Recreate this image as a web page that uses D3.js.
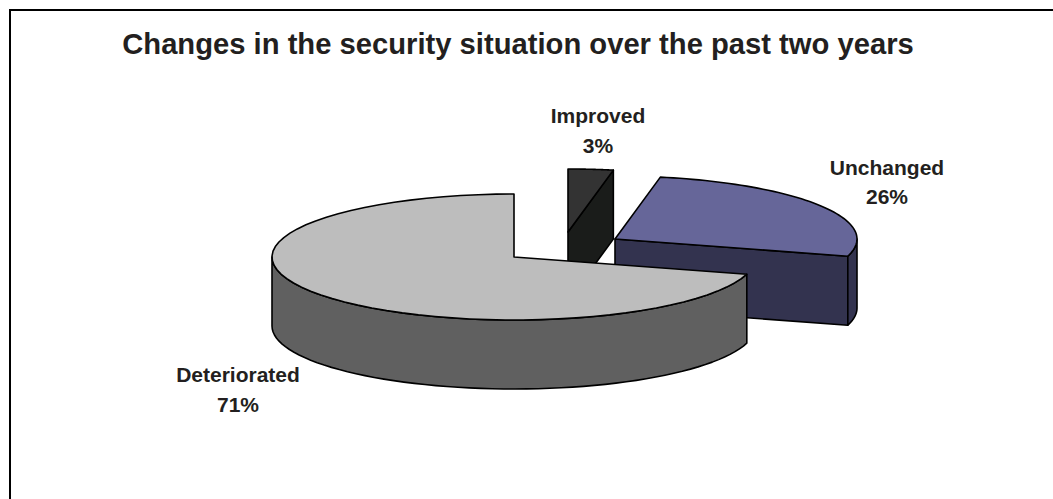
<!DOCTYPE html>
<html><head><meta charset="utf-8">
<script src="https://cdn.jsdelivr.net/npm/d3@7"></script>
<style>html,body{margin:0;padding:0;background:#fff}svg{display:block}</style></head>
<body><script>
const categories = ["Improved", "Unchanged", "Deteriorated"];
const shares = [3, 26.4, 70.6];
const topColors = ["#333333", "#666699", "#bdbdbd"];
const sideColors = ["#1a1c1a", "#33334f", "#606060"];
const titleText = "Changes in the security situation over the past two years";

const W = 1053, H = 499, rx = 242, ry = 63, depth = 69;
const centers = [[568, 232], [615, 239], [514, 257]];
const labelPos = [[598, 123], [887, 175], [238, 382]];
const labelGap = [30, 29, 30];

const svg = d3.select("body").append("svg").attr("width", W).attr("height", H);
svg.append("path").attr("d", d3.line()([[10, H], [10, 10], [W, 10]]))
  .attr("fill", "none").attr("stroke", "#000").attr("stroke-width", 2);

svg.append("text").attr("x", 518).attr("y", 54).attr("text-anchor", "middle")
  .attr("font-family", "Liberation Sans").attr("font-weight", "bold").attr("font-size", 29.2)
  .attr("fill", "#231f20").text(titleText);

const arcs = d3.pie().sort(null).value(d => d)(shares);
const px = (c, a, dy = 0) => [c[0] + rx * Math.sin(a), c[1] - ry * Math.cos(a) + dy];
const line = d3.line();
const sampled = (a0, a1) => d3.range(0, 61).map(i => a0 + (a1 - a0) * i / 60);

arcs.forEach((d, i) => {
  const c = centers[i], g = svg.append("g");
  const style = (p, fill) => p.attr("fill", fill).attr("stroke", "#000").attr("stroke-width", 1.6).attr("stroke-linejoin", "round");
  const a0 = d.startAngle, a1 = d.endAngle;
  const HALF = Math.PI / 2;

  // cut face that looks towards the viewer
  if (a1 < Math.PI) {
    style(g.append("path").attr("d", line([c, px(c, a1), px(c, a1, depth), [c[0], c[1] + depth]]) + "Z"), sideColors[i]);
  }
  // outer wall: only the part facing the viewer (between 90deg and 270deg)
  const w0 = Math.max(a0, HALF), w1 = Math.min(a1, 3 * HALF);
  if (w1 > w0) {
    const s = sampled(w0, w1);
    const pts = s.map(a => px(c, a)).concat(s.slice().reverse().map(a => px(c, a, depth)));
    style(g.append("path").attr("d", line(pts) + "Z"), sideColors[i]);
  }
  // top face
  const s = sampled(a0, a1);
  style(g.append("path").attr("d", line([c, ...s.map(a => px(c, a))]) + "Z"), topColors[i]);
});

arcs.forEach((d, i) => {
  const t = svg.append("text").attr("text-anchor", "middle")
    .attr("font-family", "Liberation Sans").attr("font-weight", "bold").attr("font-size", 21)
    .attr("fill", "#231f20");
  t.append("tspan").attr("x", labelPos[i][0]).attr("y", labelPos[i][1]).text(categories[i]);
  t.append("tspan").attr("x", labelPos[i][0]).attr("y", labelPos[i][1] + labelGap[i]).text(Math.round(shares[i]) + "%");
});
</script></body></html>
